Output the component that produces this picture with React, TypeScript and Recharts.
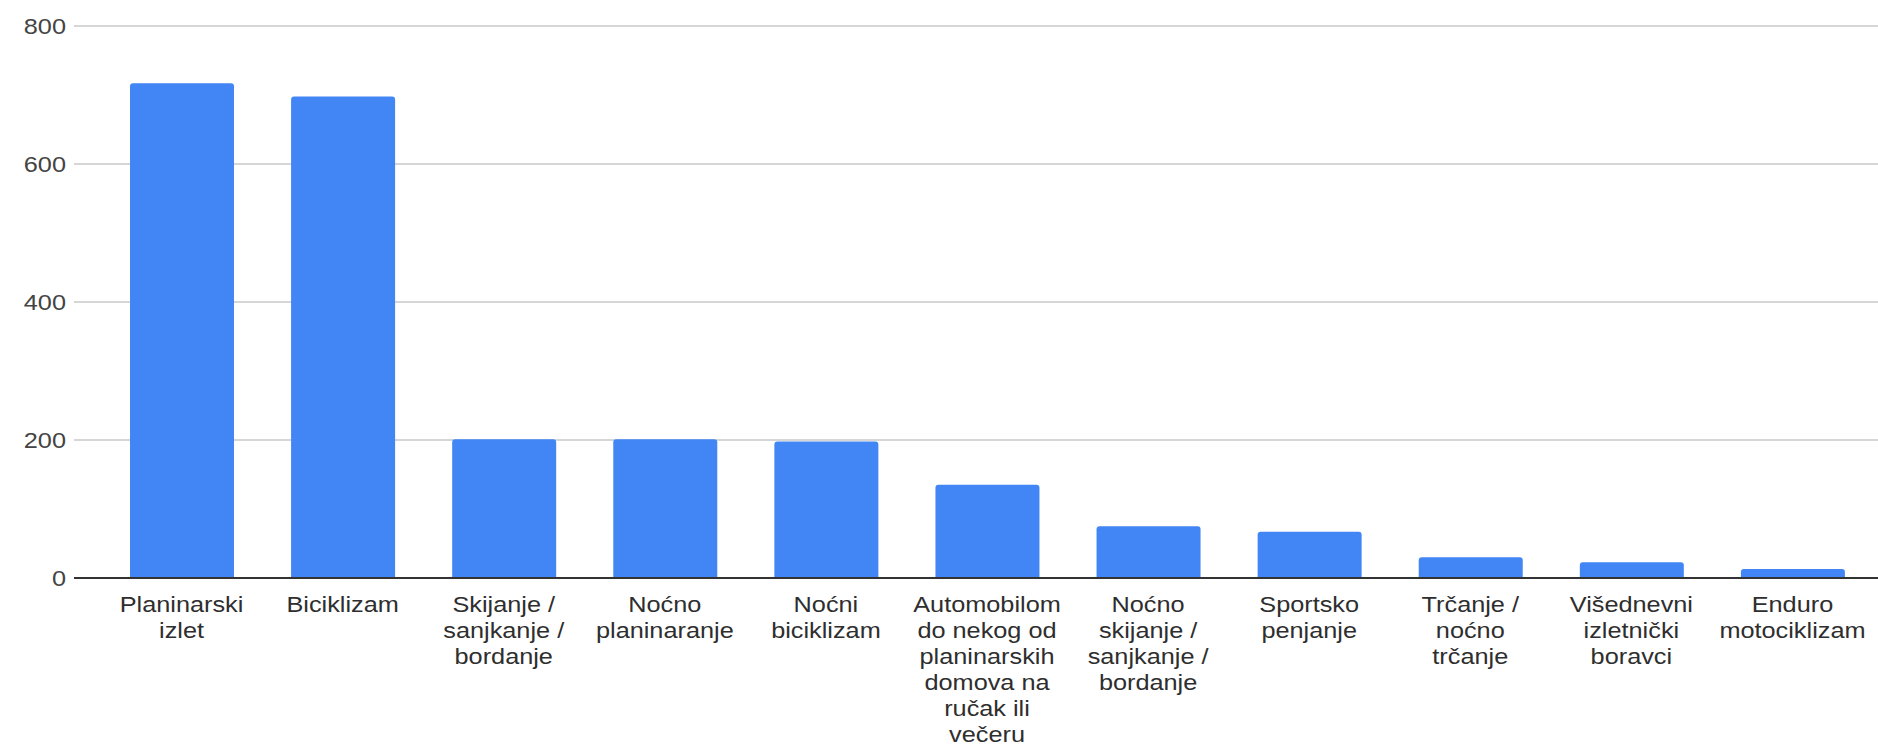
import React from "react";
import { BarChart, Bar, XAxis, YAxis, CartesianGrid } from "recharts";

// label lines as they wrap in the source chart
const categoryLines: string[][] = [
  ["Planinarski", "izlet"],
  ["Biciklizam"],
  ["Skijanje /", "sanjkanje /", "bordanje"],
  ["Noćno", "planinaranje"],
  ["Noćni", "biciklizam"],
  ["Automobilom", "do nekog od", "planinarskih", "domova na", "ručak ili", "večeru"],
  ["Noćno", "skijanje /", "sanjkanje /", "bordanje"],
  ["Sportsko", "penjanje"],
  ["Trčanje /", "noćno", "trčanje"],
  ["Višednevni", "izletnički", "boravci"],
  ["Enduro", "motociklizam"],
];

const categories = categoryLines.map((l) => l.join(" "));
const values = [717, 698, 201, 201, 198, 135, 75, 67, 30, 23, 13];
const yTicks = [0, 200, 400, 600, 800];

const data = categories.map((name, i) => ({ name, value: values[i] }));

const FONT = "Arial, 'Liberation Sans', sans-serif";
const STRETCH = 1.15;

function XTick(props: any) {
  const { x, y, payload } = props;
  const idx = categories.indexOf(payload.value);
  const lines = idx >= 0 ? categoryLines[idx] : [String(payload.value)];
  return (
    <g transform={`translate(${x},${y})`}>
      <text
        transform={`scale(${STRETCH},1)`}
        textAnchor="middle"
        fill="#2e2e2e"
        fontSize={22}
        fontFamily={FONT}
      >
        {lines.map((line, i) => (
          <tspan key={i} x={0} y={34 + i * 26}>
            {line}
          </tspan>
        ))}
      </text>
    </g>
  );
}

function YTick(props: any) {
  const { x, y, payload } = props;
  return (
    <g transform={`translate(${x},${y})`}>
      <text
        transform={`scale(${STRETCH},1)`}
        textAnchor="end"
        dy={8}
        fill="#444"
        fontSize={22}
        fontFamily={FONT}
      >
        {payload.value}
      </text>
    </g>
  );
}

export default function App() {
  return (
    <div style={{ position: "absolute", left: 0, top: 0, background: "#fff" }}>
      <BarChart
        width={1878}
        height={747}
        data={data}
        margin={{ top: 26, right: 0, bottom: 0, left: 0 }}
      >
        <CartesianGrid vertical={false} stroke="#d6d6d6" strokeWidth={2} />
        <XAxis
          dataKey="name"
          interval={0}
          height={169}
          tickLine={false}
          tickSize={0}
          tickMargin={0}
          axisLine={{ stroke: "#333", strokeWidth: 2 }}
          padding={{ left: 27, right: 5 }}
          tick={<XTick />}
        />
        <YAxis
          width={74}
          domain={[0, 800]}
          ticks={yTicks}
          axisLine={false}
          tickLine={false}
          tick={<YTick />}
        />
        <Bar
          dataKey="value"
          fill="#4285f4"
          barSize={104}
          radius={[3, 3, 0, 0]}
          isAnimationActive={false}
        />
      </BarChart>
    </div>
  );
}
